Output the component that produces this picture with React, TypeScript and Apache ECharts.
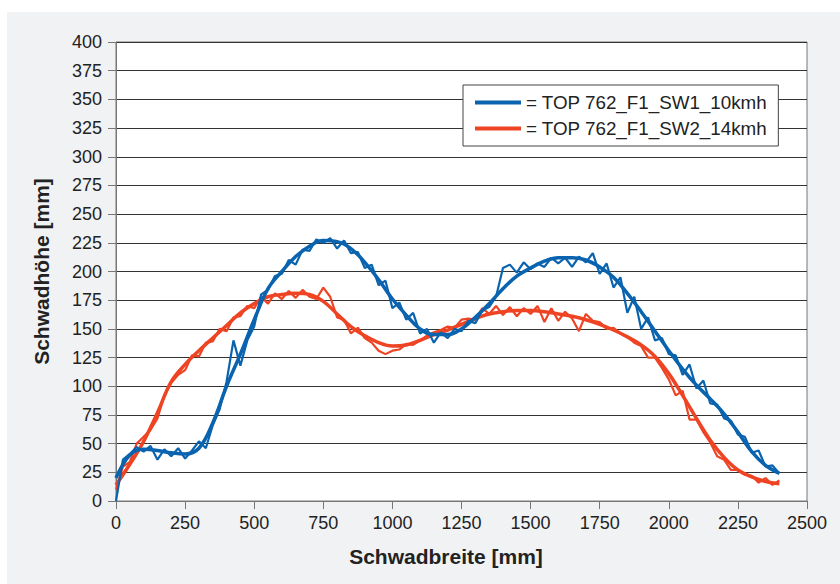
import React, { useEffect, useRef } from "react";
import * as echarts from "echarts";

const BLUE_NAME = "= TOP 762_F1_SW1_10kmh";
const RED_NAME = "= TOP 762_F1_SW2_14kmh";

// measured profiles, sampled every 25 mm from 0 to 2400 mm
const RAW_STEP = 25;
const blueRaw = [
  0, 36, 41, 47, 43, 48, 36, 45, 39, 46,
  37, 44, 52, 46, 66, 80, 104, 140, 118, 140,
  152, 180, 184, 196, 198, 210, 206, 219, 218, 228,
  225, 229, 220, 227, 216, 217, 203, 206, 188, 192,
  168, 173, 158, 164, 146, 150, 138, 147, 142, 150,
  148, 157, 155, 166, 169, 178, 203, 206, 199, 208,
  202, 207, 204, 212, 207, 212, 204, 213, 208, 216,
  198, 207, 186, 195, 164, 178, 150, 160, 140, 142,
  128, 127, 110, 119, 98, 105, 85, 84, 72, 70,
  58, 56, 42, 44, 30, 31, 24,
];
const redRaw = [
  10, 30, 34, 50, 56, 62, 72, 92, 103, 110,
  114, 127, 126, 138, 139, 150, 148, 160, 161, 170,
  168, 178, 172, 181, 176, 183, 177, 184, 178, 176,
  186, 178, 160, 158, 146, 151, 142, 138, 131, 128,
  131, 132, 137, 136, 140, 144, 147, 149, 152, 151,
  158, 159, 158, 168, 163, 170, 162, 169, 161, 168,
  163, 170, 156, 168, 157, 165, 159, 148, 163, 157,
  156, 150, 151, 146, 143, 138, 135, 125, 125, 116,
  106, 92, 96, 71, 71, 60, 51, 39, 36, 27,
  27, 23, 22, 16, 20, 14, 18,
];

// fitted trend curves, every 50 mm from 0 to 2400 mm
const FIT_STEP = 50;
const blueFit = [
  20, 40, 45, 44, 42, 41, 46, 68, 100, 128,
  158, 185, 200, 213, 222, 227, 226, 220, 208, 193,
  176, 162, 150, 145, 145, 150, 160, 172, 185, 196,
  203, 209, 212, 212, 210, 204, 195, 181, 165, 148,
  131, 115, 101, 89, 76, 60, 43, 31, 24,
];
const redFit = [
  14, 32, 52, 77, 104, 119, 131, 142, 153, 164,
  172, 178, 180, 181, 180, 174, 163, 152, 144, 138,
  135, 136, 140, 145, 149, 154, 159, 163, 165, 166,
  166, 165, 163, 161, 158, 154, 149, 143, 136, 126,
  111, 92, 72, 53, 38, 27, 21, 17, 15,
];

const BLUE = "#0a63ae";
const RED = "#ee4424";
const FONT = "'Liberation Sans', Arial, Helvetica, sans-serif";

const pairs = (vals: number[], step: number) => vals.map((v, i) => [i * step, v]);

export default function App() {
  const ref = useRef<HTMLDivElement>(null);
  useEffect(() => {
    document.body.style.margin = "0";
    const chart = echarts.init(ref.current!, null, { renderer: "svg" });
    chart.setOption({
      animation: false,
      backgroundColor: "#ffffff",
      textStyle: { fontFamily: FONT },
      graphic: [
        {
          type: "rect",
          z: -10,
          silent: true,
          shape: { x: 7, y: 12, width: 833, height: 572 },
          style: { fill: "#f1f2f4" },
        },
        {
          type: "text",
          x: 446,
          y: 556,
          style: {
            text: "Schwadbreite [mm]",
            fontFamily: FONT,
            fontSize: 21,
            fontWeight: "bold",
            fill: "#222",
            align: "center",
            verticalAlign: "middle",
          },
        },
      ],
      grid: {
        left: 116,
        right: 33,
        top: 42,
        bottom: 83,
        show: true,
        backgroundColor: "#ffffff",
        borderColor: "#777",
        borderWidth: 1,
        z: 0,
      },
      legend: {
        orient: "vertical",
        left: 463,
        top: 85,
        data: [BLUE_NAME, RED_NAME],
        backgroundColor: "#ffffff",
        borderColor: "#444",
        borderWidth: 1,
        borderRadius: 0,
        padding: [8, 11, 8, 12],
        itemGap: 7,
        itemWidth: 46,
        itemHeight: 4,
        icon: "rect",
        textStyle: { fontFamily: FONT, fontSize: 18.8, color: "#222", lineHeight: 19 },
      },
      xAxis: {
        type: "value",
        min: 0,
        max: 2500,
        interval: 250,
        axisLine: { show: true, lineStyle: { color: "#777", width: 1 } },
        axisTick: { show: true, length: 8, lineStyle: { color: "#777" } },
        axisLabel: {
          fontFamily: FONT,
          fontSize: 18,
          color: "#222",
          margin: 13,
          formatter: (v: number) => String(v),
        },
        splitLine: { show: false },
      },
      yAxis: {
        type: "value",
        min: 0,
        max: 400,
        interval: 25,
        name: "Schwadhöhe [mm]",
        nameLocation: "middle",
        nameGap: 64,
        nameTextStyle: { fontFamily: FONT, fontSize: 21, fontWeight: "bold", color: "#222" },
        axisLine: { show: true, lineStyle: { color: "#777", width: 1 } },
        axisTick: { show: true, length: 8, lineStyle: { color: "#777" } },
        axisLabel: { fontFamily: FONT, fontSize: 18, color: "#222", margin: 14 },
        splitLine: { show: true, lineStyle: { color: "#333", width: 1 } },
      },
      series: [
        {
          name: RED_NAME,
          type: "line",
          data: pairs(redRaw, RAW_STEP),
          showSymbol: false,
          lineStyle: { color: RED, width: 2.2 },
          itemStyle: { color: RED },
          z: 3,
        },
        {
          name: RED_NAME,
          type: "line",
          data: pairs(redFit, FIT_STEP),
          smooth: 0.4,
          showSymbol: false,
          lineStyle: { color: RED, width: 3.5 },
          itemStyle: { color: RED },
          z: 3,
        },
        {
          name: BLUE_NAME,
          type: "line",
          data: pairs(blueRaw, RAW_STEP),
          showSymbol: false,
          lineStyle: { color: BLUE, width: 2.2 },
          itemStyle: { color: BLUE },
          z: 4,
        },
        {
          name: BLUE_NAME,
          type: "line",
          data: pairs(blueFit, FIT_STEP),
          smooth: 0.4,
          showSymbol: false,
          lineStyle: { color: BLUE, width: 3.5 },
          itemStyle: { color: BLUE },
          z: 4,
        },
      ],
    });
    return () => chart.dispose();
  }, []);
  return <div ref={ref} style={{ width: 840, height: 584 }} />;
}
